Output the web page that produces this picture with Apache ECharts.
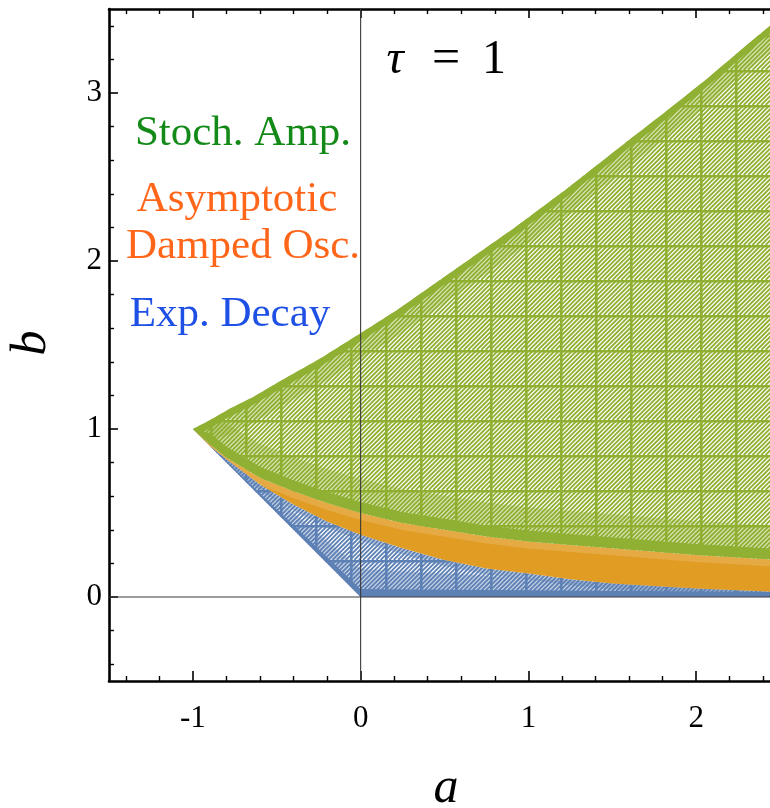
<!DOCTYPE html>
<html><head><meta charset="utf-8">
<script src="https://cdn.jsdelivr.net/npm/echarts@6/dist/echarts.min.js"></script>
<style>html,body{margin:0;padding:0;background:#fff;overflow:hidden}#c{width:780px;height:808px}</style>
</head><body><div id="c"></div>
<script>
// ---- data ----
const xMajorTicks = [-1, 0, 1, 2];
const xMinorTicks = [-1.4,-1.2,-0.8,-0.6,-0.4,-0.2,0.2,0.4,0.6,0.8,1.2,1.4,1.6,1.8,2.2,2.4];
const yMajorTicks = [0, 1, 2, 3];
const yMinorTicks = [-0.4,-0.2,0.2,0.4,0.6,0.8,1.2,1.4,1.6,1.8,2.2,2.4,2.6,2.8,3.2,3.4];

// upper edge of the stochastic-amplification (green) region
const stabilityUpper = [[-1,1],[-0.97,1.015],[-0.92,1.04],[-0.78,1.12],[-0.64,1.19],[-0.47,1.29],[-0.24,1.42],[0,1.57],[0.22,1.71],[0.42,1.85],[0.65,2.01],[0.92,2.20],[1.23,2.43],[1.60,2.72],[1.82,2.89],[2.06,3.08],[2.32,3.30],[2.5,3.45]];
// lower edge of the green region / upper edge of orange
const amplificationLower = [[-1,1],[-0.9,0.91],[-0.8,0.83],[-0.6,0.71],[-0.4,0.63],[-0.2,0.56],[0,0.50],[0.25,0.44],[0.5,0.40],[0.75,0.36],[1,0.33],[1.25,0.31],[1.5,0.29],[2,0.25],[2.5,0.22]];
// lower edge of orange / upper edge of blue
const oscillationLower = [[-1,1],[-0.9,0.90],[-0.8,0.82],[-0.6,0.67],[-0.4,0.55],[-0.2,0.45],[0,0.37],[0.25,0.29],[0.5,0.22],[0.75,0.17],[1,0.14],[1.25,0.105],[1.5,0.08],[2,0.05],[2.5,0.03]];
// lower edge of blue
const decayLower = [[-1,1],[0,0],[2.5,0]];
// reference lines a=0, b=0
const zeroVertical = [[0,-0.5],[0,3.5]];
const zeroHorizontal = [[-1.5,0],[2.5,0]];

// ---- styles ----
const GREEN = '#8fb032', BLUE = '#5e81b5', ORANGE = '#e19c24';
const FONT = "'Liberation Serif', 'DejaVu Serif', serif";

function makePattern(color, size, period, lw, gw) {
  const c = document.createElement('canvas');
  c.width = size; c.height = size;
  const g = c.getContext('2d');
  g.fillStyle = '#ffffff'; g.fillRect(0,0,size,size);
  g.strokeStyle = color; g.lineWidth = lw;
  for (let k = -size; k <= 2*size; k += period) {
    g.beginPath(); g.moveTo(k, size); g.lineTo(k + size, 0); g.stroke();
  }
  g.lineWidth = gw;
  g.beginPath(); g.moveTo(0, gw/2); g.lineTo(size, gw/2); g.stroke();
  g.beginPath(); g.moveTo(gw/2, 0); g.lineTo(gw/2, size); g.stroke();
  return c;
}
const greenPat = makePattern(GREEN, 35, 35/8, 1.8, 2.6);
const bluePat = makePattern(BLUE, 35, 35/8, 1.8, 2.6);

function interpY(pts, x) {
  if (x <= pts[0][0]) return pts[0][1];
  for (let i = 1; i < pts.length; i++) {
    if (x <= pts[i][0]) {
      const t = (x - pts[i-1][0]) / ((pts[i][0] - pts[i-1][0]) || 1);
      return pts[i-1][1] + t * (pts[i][1] - pts[i-1][1]);
    }
  }
  return pts[pts.length-1][1];
}
// band between base shifted by d1 and by d2 (pixels, +down), clamped by the opposite boundary
function band(base, d1, d2, clampPx) {
  const dir = Math.sign(d2 || d1);
  const sh = (d) => base.map(p => {
    let y = p[1] + d;
    const yc = interpY(clampPx, p[0]);
    y = dir > 0 ? Math.min(y, Math.max(yc, p[1])) : Math.max(y, Math.min(yc, p[1]));
    return [p[0], y];
  });
  const a = sh(d1), b = sh(d2);
  return a.concat(b.reverse());
}

function regionSeries(name, upper, lower, opts) {
  const poly = upper.concat(lower.slice().reverse());
  return {
    type: 'custom', name, clip: true, z: opts.z,
    xAxisIndex: 0, yAxisIndex: 0,
    data: poly,
    renderItem: (params, api) => {
      if (params.dataIndex !== 0) return null;
      const up = upper.map(p => api.coord(p));
      const lo = lower.map(p => api.coord(p));
      const full = up.concat(lo.slice().reverse());
      const children = [{ type: 'polygon', shape: { points: full }, style: { fill: opts.fill } }];
      (opts.bands || []).forEach(bd => {
        const base = bd.edge === 'upper' ? up : lo;
        const other = bd.edge === 'upper' ? lo : up;
        children.push({ type: 'polygon', shape: { points: band(base, bd.d1, bd.d2, other) },
          style: { fill: bd.color, opacity: bd.opacity == null ? 1 : bd.opacity } });
      });
      return { type: 'group', children };
    }
  };
}

const chart = echarts.init(document.getElementById('c'), null, { renderer: 'canvas' });

const axisCommon = { type: 'value', min: -1.5, max: 2.5, splitLine: { show: false } };
const yCommon = { type: 'value', min: -0.5, max: 3.5, splitLine: { show: false } };
const lineStyleAxis = { color: '#000', width: 2.6 };

const option = {
  animation: false,
  backgroundColor: '#ffffff',
  grid: { left: 109, top: 9, right: 0, bottom: 127, containLabel: false },
  xAxis: [
    Object.assign({}, axisCommon, { position: 'bottom',
      axisLine: { show: true, onZero: false, lineStyle: lineStyleAxis },
      axisTick: { show: true, inside: true, length: 10, customValues: xMajorTicks, lineStyle: { color: '#000', width: 1.6 } },
      axisLabel: { show: true, customValues: xMajorTicks, margin: 22, fontFamily: FONT, fontSize: 31, color: '#000' } }),
    Object.assign({}, axisCommon, { position: 'bottom',
      axisLine: { show: false, onZero: false },
      axisTick: { show: true, inside: true, length: 5, customValues: xMinorTicks, lineStyle: { color: '#000', width: 1.4 } },
      axisLabel: { show: false } }),
    Object.assign({}, axisCommon, { position: 'top',
      axisLine: { show: true, onZero: false, lineStyle: lineStyleAxis },
      axisTick: { show: true, inside: true, length: 9, customValues: xMajorTicks, lineStyle: { color: '#000', width: 1.6 } },
      axisLabel: { show: false } }),
    Object.assign({}, axisCommon, { position: 'top',
      axisLine: { show: false, onZero: false },
      axisTick: { show: true, inside: true, length: 5, customValues: xMinorTicks, lineStyle: { color: '#000', width: 1.4 } },
      axisLabel: { show: false } })
  ],
  yAxis: [
    Object.assign({}, yCommon, { position: 'left',
      axisLine: { show: true, onZero: false, lineStyle: lineStyleAxis },
      axisTick: { show: true, inside: true, length: 9, customValues: yMajorTicks, lineStyle: { color: '#000', width: 1.6 } },
      axisLabel: { show: true, customValues: yMajorTicks, margin: 7, padding: [7,0,0,0], fontFamily: FONT, fontSize: 31, color: '#000' } }),
    Object.assign({}, yCommon, { position: 'left',
      axisLine: { show: false, onZero: false },
      axisTick: { show: true, inside: true, length: 5, customValues: yMinorTicks, lineStyle: { color: '#000', width: 1.4 } },
      axisLabel: { show: false } })
  ],
  series: [
    regionSeries('Exp. Decay', oscillationLower, decayLower, {
      z: 2, fill: { image: bluePat, repeat: 'repeat' },
      bands: [
        { edge: 'lower', d1: 0, d2: -8, color: BLUE },
        { edge: 'lower', d1: -8, d2: -28, color: BLUE, opacity: 0.35 },
        { edge: 'upper', d1: 0, d2: 6, color: BLUE, opacity: 0.4 }
      ]
    }),
    regionSeries('Asymptotic Damped Osc.', amplificationLower, oscillationLower, {
      z: 3, fill: ORANGE,
      bands: [ { edge: 'upper', d1: 0, d2: 7, color: '#ffffff', opacity: 0.15 } ]
    }),
    regionSeries('Stoch. Amp.', stabilityUpper, amplificationLower, {
      z: 4, fill: { image: greenPat, repeat: 'repeat' },
      bands: [
        { edge: 'upper', d1: 0, d2: 8, color: GREEN },
        { edge: 'upper', d1: 8, d2: 26, color: GREEN, opacity: 0.35 },
        { edge: 'lower', d1: 0, d2: -11, color: GREEN },
        { edge: 'lower', d1: -11, d2: -34, color: GREEN, opacity: 0.35 }
      ]
    }),
    { type: 'line', data: zeroVertical, xAxisIndex: 0, yAxisIndex: 0, z: 6, symbol: 'none', silent: true,
      lineStyle: { color: '#3a3a3a', width: 1.1 } },
    { type: 'line', data: zeroHorizontal, xAxisIndex: 0, yAxisIndex: 0, z: 6, symbol: 'none', silent: true,
      lineStyle: { color: '#3a3a3a', width: 1.1 } }
  ],
  graphic: [
    { type: 'text', x: 395, y: 60, z: 10, style: { text: 'τ', font: `italic 48px ${FONT}`, fill: '#000', align: 'center', verticalAlign: 'middle' } },
    { type: 'text', x: 446, y: 60, z: 10, style: { text: '=', font: `50px ${FONT}`, fill: '#000', align: 'center', verticalAlign: 'middle' } },
    { type: 'text', x: 494, y: 60, z: 10, style: { text: '1', font: `48px ${FONT}`, fill: '#000', align: 'center', verticalAlign: 'middle' } },
    { type: 'text', x: 243, y: 134, z: 10, style: { text: 'Stoch. Amp.', font: `43px ${FONT}`, fill: '#138a17', align: 'center', verticalAlign: 'middle' } },
    { type: 'text', x: 237, y: 200, z: 10, style: { text: 'Asymptotic', font: `43px ${FONT}`, fill: '#ff661a', align: 'center', verticalAlign: 'middle' } },
    { type: 'text', x: 243, y: 247, z: 10, style: { text: 'Damped Osc.', font: `43px ${FONT}`, fill: '#ff661a', align: 'center', verticalAlign: 'middle' } },
    { type: 'text', x: 230, y: 315, z: 10, style: { text: 'Exp. Decay', font: `43px ${FONT}`, fill: '#1f50e6', align: 'center', verticalAlign: 'middle' } },
    { type: 'text', x: 446, y: 789, z: 10, style: { text: 'a', font: `italic 50px ${FONT}`, fill: '#000', align: 'center', verticalAlign: 'middle' } },
    { type: 'text', x: 32, y: 343, z: 10, rotation: Math.PI / 2, style: { text: 'b', font: `italic 50px ${FONT}`, fill: '#000', align: 'center', verticalAlign: 'middle' } }
  ]
};
chart.setOption(option);
</script>
</body></html>
